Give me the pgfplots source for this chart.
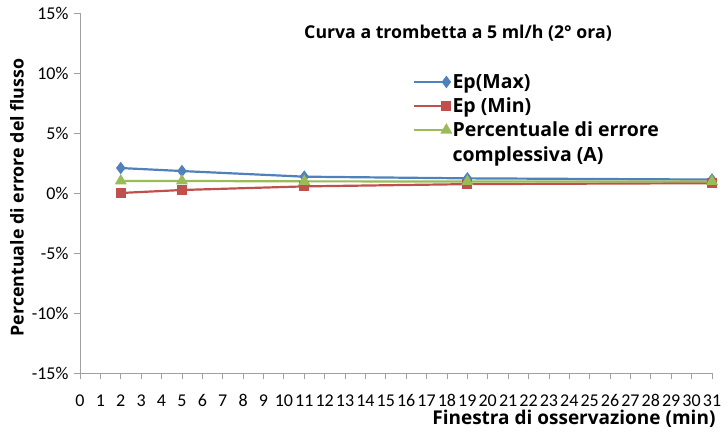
\documentclass[border=0pt]{standalone}
\usepackage{pgfplots}
\pgfplotsset{compat=1.18}
\usepackage{fontspec}
\setmainfont{Open Sans}
\newfontfamily\tickfont{Carlito}
\definecolor{cblue}{HTML}{4F81BD}
\definecolor{cred}{HTML}{C0504D}
\definecolor{cgreen}{HTML}{9BBB59}
\definecolor{axgray}{HTML}{A0A0A0}
\begin{document}
\begin{tikzpicture}[x=1pt,y=1pt]
\useasboundingbox (0,0) rectangle (728,431);
\begin{axis}[
  at={(80pt,58pt)}, anchor=south west,
  scale only axis, width=632pt, height=360pt,
  xmin=0, xmax=31, ymin=-15, ymax=15,
  axis x line=bottom, axis y line=left,
  axis line style={axgray, line width=0.8pt, -},
  xtick={0,1,...,31}, ytick={-15,-10,...,15},
  tick align=outside, major tick length=6pt,
  tick style={axgray, line width=0.8pt},
  /pgf/number format/assume math mode=true,
  tick label style={font=\tickfont\fontsize{18}{20}\selectfont},
  xticklabel style={yshift=-12pt},
  yticklabel style={xshift=-2pt},
  yticklabel={\pgfmathprintnumber{\tick}\%},
  clip=false,
  legend style={at={(0.527,0.836)}, anchor=north west, draw=none, fill=none,
    font=\bfseries\fontsize{19.5}{22}\selectfont, row sep=4pt, inner sep=0pt},
  legend cell align=left,
  legend image code/.code={\draw[#1, mark repeat=2, mark phase=2] plot coordinates {(0pt,0pt)(32pt,0pt)};},
]
\addplot[cblue, line width=2.2pt, mark=diamond*, mark size=4.5pt] coordinates {
 (2,2.08) (5,1.83) (11,1.36) (19,1.22) (31,1.12)};
\addlegendentry{Ep(Max)}
\addplot[cred, line width=2.2pt, mark=square*, mark size=3.8pt] coordinates {
 (2,0.0) (5,0.25) (11,0.55) (19,0.74) (31,0.82)};
\addlegendentry{Ep (Min)}
\addplot[cgreen, line width=2.2pt, mark=triangle*, mark size=4.8pt] coordinates {
 (2,1.0) (5,1.0) (11,0.97) (19,0.96) (31,0.96)};
\addlegendentry{Percentuale di errore}
\addlegendimage{empty legend}
\addlegendentry{complessiva (A)}
\end{axis}
\node[font=\bfseries\fontsize{17.7}{20}\selectfont] at (458,398) {Curva a trombetta a 5 ml/h (2° ora)};
\node[font=\bfseries\fontsize{19}{22}\selectfont, anchor=east] at (719,12) {Finestra di osservazione (min)};
\node[font=\bfseries\fontsize{17.8}{20}\selectfont, rotate=90] at (17,233.5) {Percentuale di errore del flusso};
\end{tikzpicture}
\end{document}
